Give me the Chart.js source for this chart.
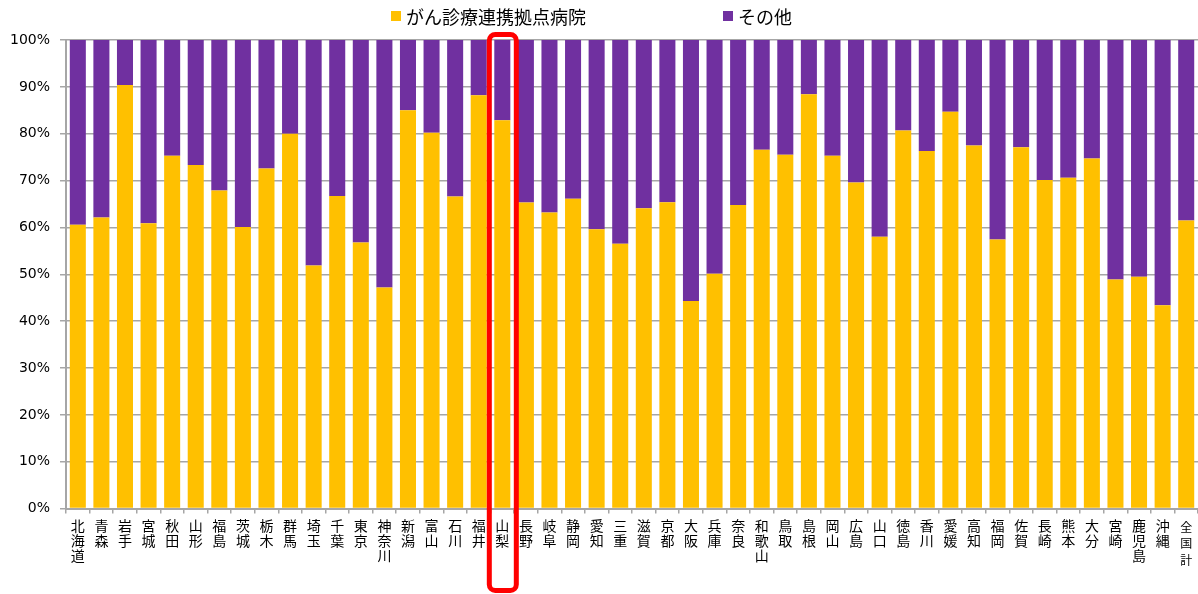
<!DOCTYPE html>
<html lang="ja">
<head>
<meta charset="utf-8">
<title>がん診療連携拠点病院の割合</title>
<script src="https://cdn.jsdelivr.net/npm/chart.js@4.4.1/dist/chart.umd.min.js"></script>
<style>
  html, body { margin: 0; padding: 0; background: #fff; }
  #wrap { width: 1198px; height: 594px; }
</style>
</head>
<body>
<div id="wrap"><canvas id="shareChart" width="1198" height="594"></canvas></div>
<script>
const prefectures = [
  '北海道', '青森', '岩手', '宮城', '秋田', '山形', '福島', '茨城', '栃木', '群馬',
  '埼玉', '千葉', '東京', '神奈川', '新潟', '富山', '石川', '福井', '山梨', '長野',
  '岐阜', '静岡', '愛知', '三重', '滋賀', '京都', '大阪', '兵庫', '奈良', '和歌山',
  '鳥取', '島根', '岡山', '広島', '山口', '徳島', '香川', '愛媛', '高知', '福岡',
  '佐賀', '長崎', '熊本', '大分', '宮崎', '鹿児島', '沖縄', '全国計'
];

// がん診療連携拠点病院 (%)
const cancerHospitals = [
  60.6, 62.1, 90.4, 60.9, 75.3, 73.3, 67.9, 60.1, 72.6, 80.0,
  51.9, 66.7, 56.8, 47.2, 85.0, 80.2, 66.6, 88.2, 82.9, 65.3,
  63.2, 66.1, 59.6, 56.5, 64.1, 65.4, 44.3, 50.1, 64.8, 76.6,
  75.5, 88.4, 75.3, 69.6, 58.0, 80.7, 76.3, 84.7, 77.5, 57.4,
  77.1, 70.1, 70.6, 74.7, 48.9, 49.5, 43.4, 61.5
];

// その他 (%)
const otherHospitals = [
  39.4, 37.9, 9.6, 39.1, 24.7, 26.7, 32.1, 39.9, 27.4, 20.0,
  48.1, 33.3, 43.2, 52.8, 15.0, 19.8, 33.4, 11.8, 17.1, 34.7,
  36.8, 33.9, 40.4, 43.5, 35.9, 34.6, 55.7, 49.9, 35.2, 23.4,
  24.5, 11.6, 24.7, 30.4, 42.0, 19.3, 23.7, 15.3, 22.5, 42.6,
  22.9, 29.9, 29.4, 25.3, 51.1, 50.5, 56.6, 38.5
];

const highlighted = '山梨';

const gridGray = '#a6a6a6';
const jpFont = '"Noto Sans CJK JP", "Noto Sans", sans-serif';

// legend drawn by hand: two items far apart above the plot
const topLegend = {
  id: 'topLegend',
  afterDraw(chart) {
    const ctx = chart.ctx;
    const mid = chart.width / 2;
    const items = [
      { text: 'がん診療連携拠点病院', color: '#FFC000', x: mid - 208 },
      { text: 'その他', color: '#7030A0', x: mid + 124 }
    ];
    const box = 10, y = 16;
    ctx.save();
    ctx.font = '18px ' + jpFont;
    ctx.textBaseline = 'middle';
    items.forEach((it) => {
      ctx.fillStyle = it.color;
      ctx.fillRect(it.x, y - box / 2, box, box);
      ctx.fillStyle = '#000';
      ctx.fillText(it.text, it.x + box + 5, y + 1);
    });
    ctx.restore();
  }
};

// red rounded frame around the highlighted prefecture
const highlightBox = {
  id: 'highlightBox',
  afterDraw(chart) {
    const idx = prefectures.indexOf(highlighted);
    if (idx < 0) return;
    const cx = chart.scales.x.getPixelForValue(idx);
    const left = cx - 13, right = cx + 14;
    const top = chart.chartArea.top - 5.5, bottom = chart.height - 3.5;
    const ctx = chart.ctx;
    ctx.save();
    ctx.strokeStyle = '#ff0000';
    ctx.lineWidth = 5;
    ctx.beginPath();
    ctx.roundRect(left, top, right - left, bottom - top, 6);
    ctx.stroke();
    ctx.restore();
  }
};

const lastIndex = prefectures.length - 1;

new Chart(document.getElementById('shareChart'), {
  type: 'bar',
  data: {
    labels: prefectures.map((p) => p.split('')),
    datasets: [
      {
        label: 'がん診療連携拠点病院',
        data: cancerHospitals,
        backgroundColor: '#FFC000',
        barPercentage: 0.68,
        categoryPercentage: 1
      },
      {
        label: 'その他',
        data: otherHospitals,
        backgroundColor: '#7030A0',
        barPercentage: 0.68,
        categoryPercentage: 1
      }
    ]
  },
  options: {
    responsive: false,
    animation: false,
    layout: { padding: { top: 40, right: -2, left: 0, bottom: 20 } },
    plugins: {
      legend: { display: false },
      tooltip: { enabled: false }
    },
    scales: {
      x: {
        stacked: true,
        border: { color: gridGray, width: 2 },
        grid: { offset: true, drawOnChartArea: false, color: gridGray, tickLength: 5, lineWidth: 1.5 },
        ticks: {
          color: '#000',
          maxRotation: 0,
          autoSkip: false,
          padding: 5,
          // the last label (全国計) is set a little smaller in the original
          font: (ctx) => ctx.index === lastIndex
            ? { family: jpFont, size: 12, lineHeight: 1.4 }
            : { family: jpFont, size: 14, lineHeight: 1.07 }
        }
      },
      y: {
        stacked: true,
        min: 0,
        max: 100,
        border: { color: gridGray, width: 2 },
        grid: { color: gridGray, lineWidth: 1.5, tickLength: 6 },
        ticks: {
          stepSize: 10,
          color: '#000',
          padding: 10,
          font: { family: '"DejaVu Sans", sans-serif', size: 14 },
          callback: (v) => v + '%'
        }
      }
    }
  },
  plugins: [topLegend, highlightBox]
});
</script>
</body>
</html>
